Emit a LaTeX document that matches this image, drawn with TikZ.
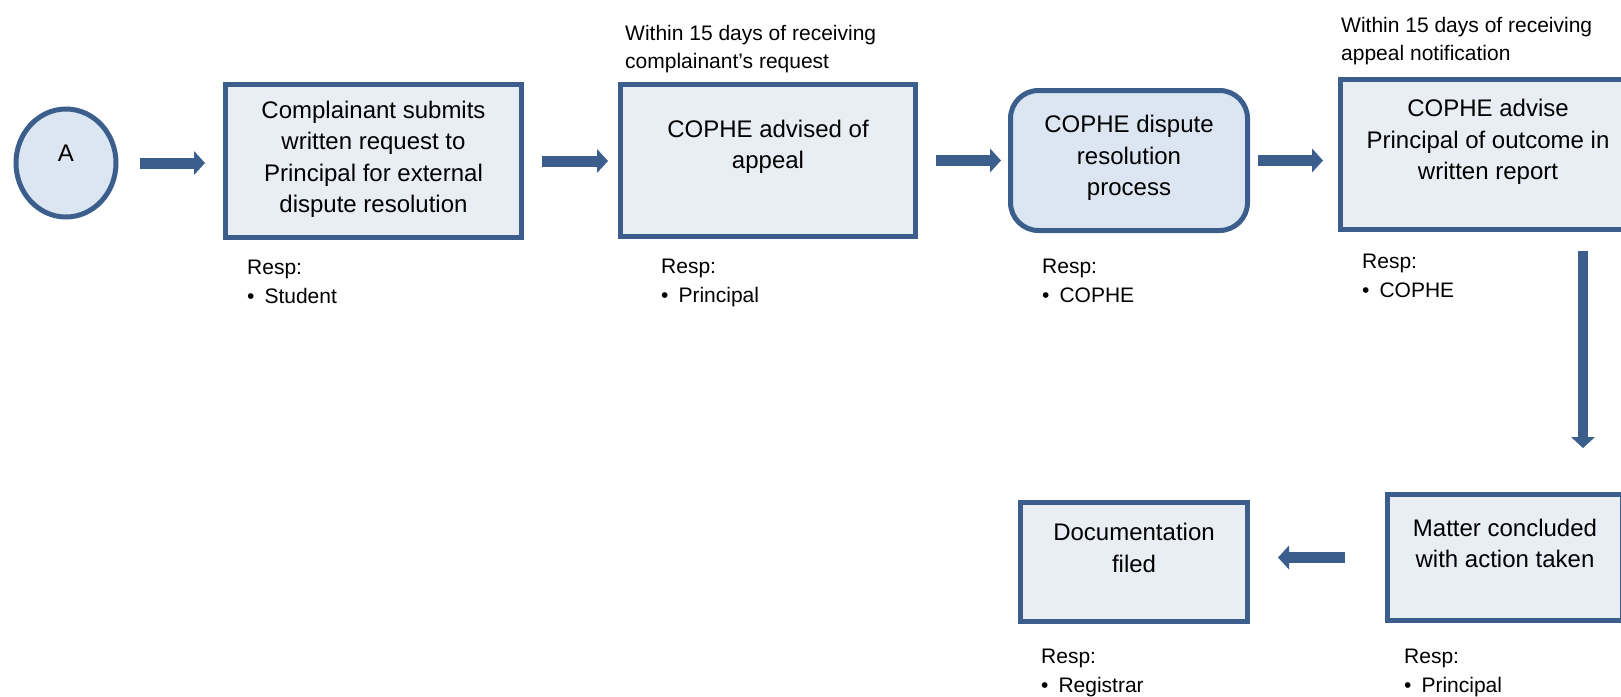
\documentclass[tikz,border=0pt]{standalone}
\usepackage{fontspec}
\setmainfont{Liberation Sans}
\usetikzlibrary{arrows.meta,shapes.geometric}

\definecolor{bord}{HTML}{3B5E8C}
\definecolor{boxfill}{HTML}{E9EDF4}
\definecolor{softfill}{HTML}{DCE6F2}
\newcommand{\bigtxt}{\fontsize{24}{31.5}\selectfont}
\newcommand{\smalltxt}{\fontsize{21}{28.5}\selectfont}

\tikzset{
  stepbox/.style={draw=bord, line width=5pt, fill=boxfill, align=center, font=\bigtxt, inner sep=0pt},
  respnote/.style={anchor=north west, align=left, font=\smalltxt, inner sep=0pt},
  flow/.style={draw=bord, line width=11pt, -{Triangle[length=11pt 0 0, width=24pt 0 0, line width=0pt]}}
}

\begin{document}
\begin{tikzpicture}[x=1pt,y=-1pt]
  % page frame
  \useasboundingbox (0,0) rectangle (1621,696);

  % top row
  \node[stepbox, ellipse, fill=softfill, minimum width=100pt, minimum height=108pt, text depth=20pt] (start) at (66,163) {A};
  \node[stepbox, minimum width=296pt, minimum height=153pt, text depth=8pt] (submit) at (373.5,161) {Complainant submits\\written request to\\Principal for external\\dispute resolution};
  \node[stepbox, minimum width=295pt, minimum height=152pt, text depth=32pt] (advised) at (768,160.5) {COPHE advised of\\appeal};
  \node[stepbox, fill=softfill, rounded corners=28pt, minimum width=237pt, minimum height=140pt, text depth=10pt] (process) at (1129,160.5) {COPHE dispute\\resolution\\process};
  \node[stepbox, minimum width=295pt, minimum height=150pt, text depth=30pt] (outcome) at (1488,154.5) {COPHE advise\\Principal of outcome in\\written report};

  % bottom row
  \node[stepbox, minimum width=235pt, minimum height=126pt, text depth=28pt] (concluded) at (1505,557.5) {Matter concluded\\with action taken};
  \node[stepbox, minimum width=227pt, minimum height=119pt, text depth=28pt] (filed) at (1134,562) {Documentation\\filed};

  % time limits
  \node[respnote] (due2) at (625,25) {Within 15 days of receiving\\complainant’s request};
  \node[respnote] (due4) at (1341,17) {Within 15 days of receiving\\appeal notification};

  % responsibilities
  \node[respnote] (resp1) at (247,260) {Resp:\\\textbullet\hspace{10pt}Student};
  \node[respnote] (resp2) at (661,259) {Resp:\\\textbullet\hspace{10pt}Principal};
  \node[respnote] (resp3) at (1042,259) {Resp:\\\textbullet\hspace{10pt}COPHE};
  \node[respnote] (resp4) at (1362,254) {Resp:\\\textbullet\hspace{10pt}COPHE};
  \node[respnote] (resp5) at (1404,649) {Resp:\\\textbullet\hspace{10pt}Principal};
  \node[respnote] (resp6) at (1041,649) {Resp:\\\textbullet\hspace{10pt}Registrar};

  % arrows
  \draw[flow, shorten <=21pt, shorten >=18pt] (start.east) -- (start.east -| submit.west);
  \draw[flow, shorten <=18pt, shorten >=10pt] (submit.east) -- (submit.east -| advised.west);
  \draw[flow, shorten <=18pt, shorten >=7pt] (advised.east) -- (advised.east -| process.west);
  \draw[flow, shorten <=8pt, shorten >=15pt] (process.east) -- (process.east -| outcome.west);
  \draw[flow, line width=10pt, shorten <=19pt, shorten >=44pt] ([xshift=95pt]outcome.south) -- ([xshift=95pt]outcome.south |- concluded.north);
  \draw[flow, shorten <=40pt, shorten >=28pt] (concluded.west) -- (concluded.west -| filed.east);
\end{tikzpicture}
\end{document}
